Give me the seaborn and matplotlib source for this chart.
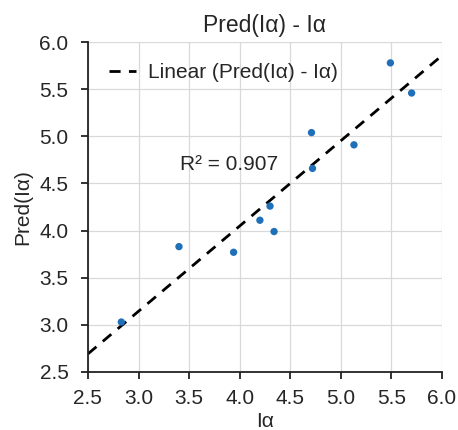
import numpy as np
import pandas as pd
import seaborn as sns
import matplotlib.pyplot as plt

# values
i_alpha = [2.83, 3.40, 3.94, 4.20, 4.30, 4.34, 4.71, 4.72, 5.13, 5.49, 5.70]
pred_i_alpha = [3.03, 3.83, 3.77, 4.11, 4.26, 3.99, 5.04, 4.66, 4.91, 5.78, 5.46]
ticks = [2.5, 3.0, 3.5, 4.0, 4.5, 5.0, 5.5, 6.0]

df = pd.DataFrame({'x': i_alpha, 'y': pred_i_alpha})

sns.set_style('whitegrid')
plt.rcParams['font.family'] = ['Liberation Sans', 'DejaVu Sans']
fs = 15

fig = plt.figure(figsize=(4.58, 4.30), dpi=100)
ax = fig.add_axes([0.192, 0.135, 0.773, 0.767])
ax.set_xlim(2.5, 6.0)
ax.set_ylim(2.5, 6.0)

# trendline across the whole x range
sns.regplot(data=df, x='x', y='y', ax=ax, ci=None, truncate=False, scatter=False,
            line_kws=dict(color='black', ls=(0, (4, 3)), lw=2),
            label='Linear (Pred(Iα) - Iα)')
sns.scatterplot(data=df, x='x', y='y', ax=ax, color='#1f70b8', s=28,
                edgecolor='none', zorder=3)

ax.set_xlim(2.5, 6.0)
ax.set_ylim(2.5, 6.0)
ax.set_xticks(ticks)
ax.set_yticks(ticks)
ax.set_xticklabels([f'{t:.1f}' for t in ticks], fontsize=fs)
ax.set_yticklabels([f'{t:.1f}' for t in ticks], fontsize=fs)
ax.set_xlabel('Iα', fontsize=fs, labelpad=3)
ax.set_ylabel('Pred(Iα)', fontsize=fs, labelpad=5)
ax.set_title('Pred(Iα) - Iα', fontsize=16.5, pad=7)

ax.grid(color='#d9d9d9', lw=0.9)
for s in ['top', 'right']:
    ax.spines[s].set_visible(False)
for s in ['left', 'bottom']:
    ax.spines[s].set_color('#222222')
    ax.spines[s].set_linewidth(1.3)
ax.tick_params(axis='y', direction='out', length=5, width=1.3, color='#222222',
               left=True, pad=9)
ax.tick_params(axis='x', direction='out', length=5, width=1.3, color='#222222',
               bottom=True, pad=7)

ax.text(3.9, 4.7, 'R² = 0.907', fontsize=fs, ha='center', va='center')

leg = ax.legend(loc='upper left', frameon=False, fontsize=fs, handlelength=1.3,
                handletextpad=0.6, borderaxespad=0.6)

fig.savefig('out.png', dpi=100)
